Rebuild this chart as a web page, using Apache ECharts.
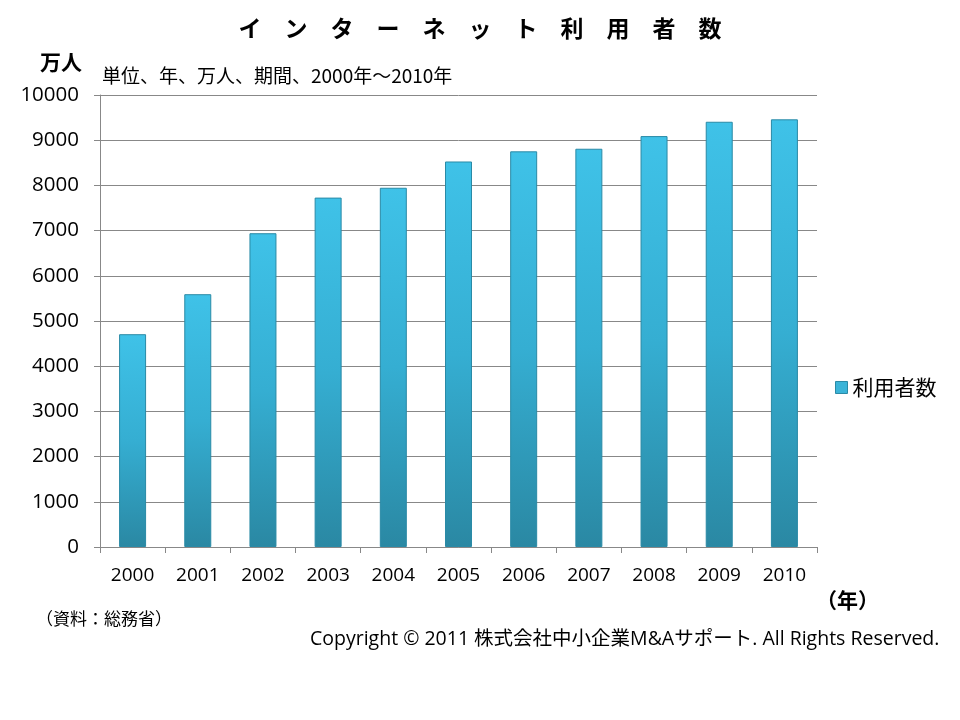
<!DOCTYPE html>
<html>
<head>
<meta charset="utf-8">
<script src="https://cdn.jsdelivr.net/npm/echarts@6/dist/echarts.min.js"></script>
<style>html,body{margin:0;padding:0;background:#fff;}#c{width:960px;height:720px;}</style>
</head>
<body>
<div id="c"></div>
<script>
const years = ['2000','2001','2002','2003','2004','2005','2006','2007','2008','2009','2010'];
const users = [4708, 5593, 6942, 7730, 7948, 8529, 8754, 8811, 9091, 9408, 9462];
const seriesName = '利用者数';
const yTicks = {min: 0, max: 10000, interval: 1000};

const latin = "'Open Sans','Noto Sans CJK JP',sans-serif";
const cjk = "'Noto Sans CJK JP',sans-serif";

const chart = echarts.init(document.getElementById('c'), null, {renderer: 'canvas'});
const barColor = new echarts.graphic.LinearGradient(0, 0, 0, 1, [
  {offset: 0, color: '#3fc2e8'},
  {offset: 0.5, color: '#35aed2'},
  {offset: 1, color: '#2a88a3'}
]);
chart.setOption({
  animation: false,
  title: {
    text: 'イ　ン　タ　ー　ネ　ッ　ト　利　用　者　数',
    left: 'center', top: 12,
    textStyle: {fontFamily: cjk, fontSize: 23, fontWeight: 'bold', color: '#000'}
  },
  legend: {
    orient: 'vertical', left: 830, top: 372,
    itemWidth: 12, itemHeight: 12, itemGap: 10,
    textStyle: {fontFamily: cjk, fontSize: 21, color: '#000'},
    data: [{name: seriesName, icon: 'rect', itemStyle: {color: '#3bb4d8', borderColor: '#2a8aa6', borderWidth: 1}}]
  },
  grid: {left: 100, right: 143, top: 95, bottom: 173},
  xAxis: {
    type: 'category', data: years,
    axisLine: {lineStyle: {color: '#888', width: 1}},
    axisTick: {show: true, length: 6, lineStyle: {color: '#888'}},
    axisLabel: {fontFamily: latin, fontSize: 19, color: '#000', margin: 19}
  },
  yAxis: {
    type: 'value', min: yTicks.min, max: yTicks.max, interval: yTicks.interval,
    axisLine: {show: true, lineStyle: {color: '#888', width: 1}},
    axisTick: {show: true, length: 6, lineStyle: {color: '#888'}},
    splitLine: {lineStyle: {color: '#888', width: 1}},
    axisLabel: {fontFamily: latin, fontSize: 20.5, color: '#000', margin: 21, formatter: v => String(v)}
  },
  series: [{
    name: seriesName, type: 'bar', data: users, barWidth: 27,
    itemStyle: {color: barColor, borderColor: '#2a8aa6', borderWidth: 1}
  }],
  graphic: [
    {type: 'text', left: 40, top: 52, style: {text: '万人', fontFamily: cjk, fontSize: 21, fontWeight: 'bold', fill: '#000'}},
    {type: 'text', left: 102, top: 66, style: {text: '単位、年、万人、期間、2000年～2010年', fontFamily: cjk, fontSize: 19, fill: '#000'}},
    {type: 'text', left: 816, top: 590, style: {text: '（年）', fontFamily: cjk, fontSize: 21, fontWeight: 'bold', fill: '#000'}},
    {type: 'text', left: 36, top: 610, style: {text: '（資料：総務省）', fontFamily: cjk, fontSize: 17, fill: '#000'}},
    {type: 'text', left: 310, top: 630, style: {text: 'Copyright © 2011 株式会社中小企業M&Aサポート. All Rights Reserved.', fontFamily: latin, fontSize: 19.5, fill: '#000'}}
  ]
});
</script>
</body>
</html>
